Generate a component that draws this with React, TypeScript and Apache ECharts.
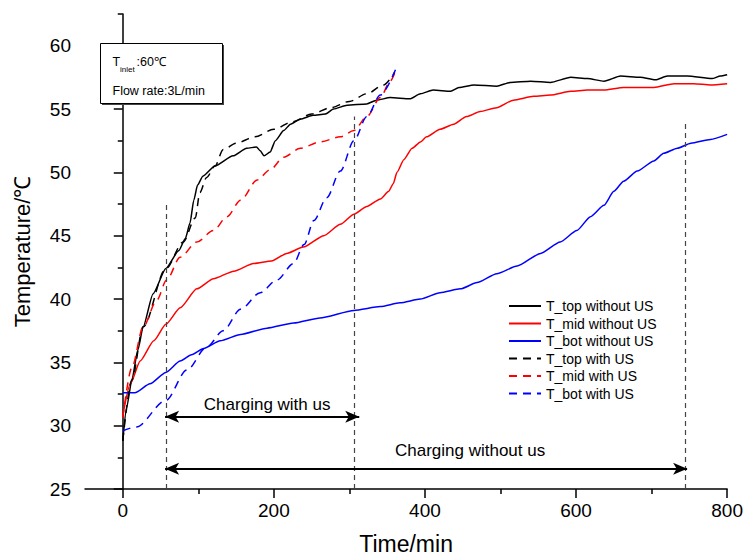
import React, { useEffect, useRef } from "react";
import * as echarts from "echarts";

// time (min), temperature (°C)
const topWithout: [number, number][] = [
  [0, 28.8], [5, 31.4], [12, 33.6], [20, 36], [27, 37.8], [40, 40.4], [57, 42.4], [74, 43.8], [83, 44.8],
  [89, 46], [94, 47.8], [99, 49], [106, 49.7], [122, 50.5], [146, 51.3], [164, 51.9], [177, 52],
  [182, 51.7], [187, 51.3], [195, 51.6], [202, 52.5], [213, 53.3], [222, 53.8], [235, 54.2], [252, 54.5],
  [268, 54.6], [279, 55], [297, 55.3], [323, 55.4], [336, 55.7], [354, 55.9], [380, 55.8], [394, 56.2],
  [411, 56.5], [434, 56.4], [445, 56.7], [465, 56.9], [495, 56.8], [513, 57.1], [540, 57.2], [566, 57.1],
  [593, 57.5], [615, 57.4], [637, 57.2], [659, 57.6], [685, 57.5], [705, 57.3], [721, 57.6], [747, 57.6],
  [780, 57.4], [791, 57.6], [800, 57.7],
];
const midWithout: [number, number][] = [
  [0, 30.8], [10, 33.3], [23, 35.1], [41, 36.7], [57, 38], [76, 39.3], [98, 40.8], [120, 41.6], [147, 42.2],
  [173, 42.8], [197, 43], [217, 43.6], [239, 44.1], [266, 45], [288, 45.9], [306, 46.7], [323, 47.3],
  [341, 47.9], [352, 48.5], [358, 49.1], [363, 50], [372, 51], [383, 51.9], [394, 52.4], [402, 52.8],
  [420, 53.4], [438, 53.8], [455, 54.4], [473, 54.8], [495, 55.1], [517, 55.7], [544, 56], [566, 56.1],
  [593, 56.4], [615, 56.5], [637, 56.5], [663, 56.7], [703, 56.7], [730, 57], [756, 57], [778, 56.9], [800, 57],
];
const botWithout: [number, number][] = [
  [0, 32.6], [16, 32.6], [36, 33.3], [57, 34.2], [76, 35.1], [91, 35.6], [107, 36.1], [129, 36.7],
  [156, 37.2], [191, 37.7], [226, 38.1], [261, 38.5], [306, 39.1], [341, 39.4], [367, 39.7], [394, 40],
  [420, 40.5], [447, 40.8], [469, 41.3], [495, 42], [522, 42.6], [553, 43.6], [579, 44.5], [601, 45.4],
  [619, 46.5], [637, 47.4], [650, 48.5], [663, 49.3], [681, 50.1], [703, 50.9], [716, 51.5], [734, 51.9],
  [752, 52.3], [778, 52.6], [800, 53],
];
const topWith: [number, number][] = [
  [0, 28.8], [12, 33.6], [27, 37.8], [57, 42.4], [80, 44.5], [96, 46.4], [102, 48.4], [111, 49.6],
  [122, 50.5], [133, 51.8], [150, 52.3], [175, 52.8], [200, 53.4], [225, 54], [250, 54.6], [275, 55.1],
  [300, 55.6], [323, 56.2], [345, 56.9], [360, 57.9],
];
const midWith: [number, number][] = [
  [0, 30.6], [12, 34.6], [27, 37.8], [45, 39.9], [58, 41.5], [76, 43.3], [98, 44.5], [120, 45.4],
  [138, 46.5], [156, 47.8], [178, 49.4], [195, 50.2], [213, 51.2], [235, 51.9], [261, 52.4], [288, 52.8],
  [306, 53.3], [323, 54.4], [341, 55.9], [354, 57.2], [361, 58],
];
const botWith: [number, number][] = [
  [0, 29.6], [18, 29.9], [57, 32], [85, 34.4], [111, 36.2], [133, 37.5], [156, 39.2], [182, 40.5],
  [204, 41.5], [226, 42.8], [240, 44.3], [253, 46.2], [270, 48], [288, 50.1], [306, 52.5], [323, 54.4],
  [341, 56.1], [361, 58.1],
];

const seriesNames = [
  "T_top without US", "T_mid without US", "T_bot without US",
  "T_top with US", "T_mid with US", "T_bot with US",
];

// vertical markers: [time, top temperature]
const verticalMarkers: [number, number][] = [[57, 47.5], [306, 54.4], [745, 53.9]];
// arrows: [start time, end time, temperature]
const chargingWithUs: [number, number, number] = [56, 313, 30.7];
const chargingWithoutUs: [number, number, number] = [56, 747, 26.6];

const xMajorTicks = [0, 200, 400, 600, 800];
const xMinorTicks = [100, 300, 500, 700];
const yMajorTicks = [25, 30, 35, 40, 45, 50, 55, 60];
const yMinorTicks = [27.5, 32.5, 37.5, 42.5, 47.5, 52.5, 57.5, 62.5];

const FONT = "'Liberation Sans', Arial, Helvetica, sans-serif";

export default function App() {
  const ref = useRef<HTMLDivElement>(null);
  useEffect(() => {
    if (!ref.current) return;
    const chart = echarts.init(ref.current, undefined, { renderer: "svg" });
    const colors = ["#000000", "#ff0000", "#0000ff", "#000000", "#ff0000", "#0000ff"];
    const datasets = [topWithout, midWithout, botWithout, topWith, midWith, botWith];
    const lineSeries = datasets.map((d, i) => ({
      name: seriesNames[i],
      type: "line",
      data: d,
      symbol: "none",
      smooth: i >= 3 ? 0.3 : 0.2,
      smoothMonotone: "x",
      lineStyle: { color: colors[i], width: 1.5, type: i >= 3 ? [8, 6] : "solid" },
      itemStyle: { color: colors[i] },
      z: 3,
    }));
    const axisCommon = {
      axisLine: { show: true, lineStyle: { color: "#000", width: 1.5 } },
      splitLine: { show: false },
    };
    chart.setOption({
      animation: false,
      textStyle: { fontFamily: FONT },
      grid: { left: 85, right: 17, top: 14, bottom: 71, containLabel: false },
      legend: {
        orient: "vertical",
        left: 503,
        top: 294,
        itemWidth: 32,
        itemHeight: 14,
        itemGap: 3.5,
        itemStyle: { color: "transparent", borderColor: "transparent", borderWidth: 0, opacity: 0 },
        textStyle: { fontSize: 14, color: "#000", fontFamily: FONT },
        data: seriesNames,
      },
      xAxis: [
        {
          type: "value",
          min: -50,
          max: 800,
          ...axisCommon,
          axisTick: { show: true, customValues: xMajorTicks, length: 9, lineStyle: { color: "#000", width: 1.5 } },
          axisLabel: { customValues: xMajorTicks, fontSize: 19, color: "#000", margin: 12, fontFamily: FONT },
          name: "Time/min",
          nameLocation: "middle",
          nameGap: 43,
          nameTextStyle: { fontSize: 23, color: "#000", fontFamily: FONT },
        },
        {
          type: "value",
          min: -50,
          max: 800,
          position: "bottom",
          axisLine: { show: false },
          splitLine: { show: false },
          axisTick: { show: true, customValues: xMinorTicks, length: 5, lineStyle: { color: "#000", width: 1.5 } },
          axisLabel: { show: false },
        },
      ],
      yAxis: [
        {
          type: "value",
          min: 25,
          max: 62.5,
          ...axisCommon,
          axisTick: { show: true, customValues: yMajorTicks, length: 9, lineStyle: { color: "#000", width: 1.5 } },
          axisLabel: { customValues: yMajorTicks, fontSize: 19, color: "#000", margin: 14, fontFamily: FONT },
          name: "Temperature/℃",
          nameLocation: "middle",
          nameGap: 52,
          nameTextStyle: { fontSize: 22, color: "#000", fontFamily: FONT },
        },
        {
          type: "value",
          min: 25,
          max: 62.5,
          position: "left",
          axisLine: { show: false },
          splitLine: { show: false },
          axisTick: { show: true, customValues: yMinorTicks, length: 5, lineStyle: { color: "#000", width: 1.5 } },
          axisLabel: { show: false },
        },
      ],
      series: [
        ...lineSeries,
        {
          name: "markers",
          type: "line",
          data: [],
          silent: true,
          markLine: {
            silent: true,
            symbol: ["none", "none"],
            label: { show: false },
            lineStyle: { color: "#444", width: 1.2, type: [5, 4] },
            data: verticalMarkers.map(([t, top]) => [{ coord: [t, 25] }, { coord: [t, top] }]),
          },
        },
        {
          name: "arrows",
          type: "line",
          data: [],
          silent: true,
          markLine: {
            silent: true,
            symbol: ["arrow", "arrow"],
            symbolSize: [9, 14],
            lineStyle: { color: "#000", width: 2, type: "solid" },
            label: {
              show: true,
              position: "insideMiddleTop",
              formatter: "{b}",
              color: "#000",
              fontSize: 17,
              fontFamily: FONT,
            },
            data: [
              [
                { coord: [chargingWithUs[0], chargingWithUs[2]], name: "Charging with us", label: { distance: 4, offset: [5, 0] } },
                { coord: [chargingWithUs[1], chargingWithUs[2]] },
              ],
              [
                { coord: [chargingWithoutUs[0], chargingWithoutUs[2]], name: "Charging without us", label: { distance: 10, offset: [44, 0] } },
                { coord: [chargingWithoutUs[1], chargingWithoutUs[2]] },
              ],
            ],
          },
        },
      ],
      graphic: [
        { type: "rect", shape: { x: 102, y: 45, width: 122, height: 60 }, style: { fill: "#444" }, silent: true, z: 10 },
        { type: "rect", shape: { x: 100.5, y: 43.5, width: 122, height: 60 }, style: { fill: "#fff", stroke: "#000", lineWidth: 1 }, silent: true, z: 11 },
        { type: "text", x: 112.5, y: 61.7, style: { text: "T", fontSize: 12.5, fill: "#000", fontFamily: FONT, verticalAlign: "middle" }, z: 12 },
        { type: "text", x: 120, y: 69.5, style: { text: "inlet", fontSize: 8, fill: "#000", fontFamily: FONT, verticalAlign: "middle" }, z: 12 },
        { type: "text", x: 136.5, y: 61.7, style: { text: ":60℃", fontSize: 12.5, fill: "#000", fontFamily: FONT, verticalAlign: "middle" }, z: 12 },
        { type: "text", x: 112.5, y: 91, style: { text: "Flow rate:3L/min", fontSize: 12.5, fill: "#000", fontFamily: FONT, verticalAlign: "middle" }, z: 12 },
      ],
    });
    return () => chart.dispose();
  }, []);
  return <div ref={ref} style={{ position: "absolute", left: 0, top: 0, width: 746, height: 560, background: "#fff" }} />;
}
